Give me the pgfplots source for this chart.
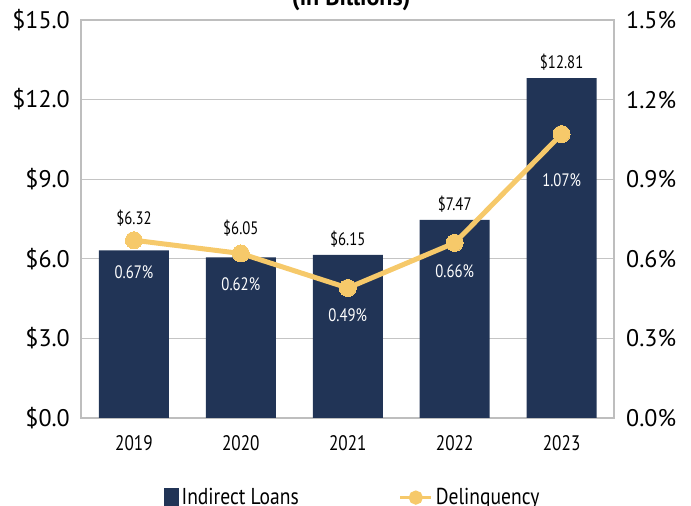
\documentclass[border=0pt]{standalone}
\usepackage{pgfplots}
\pgfplotsset{compat=1.18}
\usepackage{fontspec}
\setmainfont{PT Sans}
\newfontfamily\condfont[FakeStretch=0.82]{PT Sans}
\newfontfamily\legfont[FakeStretch=0.85]{PT Sans}
\definecolor{navy}{HTML}{213456}
\definecolor{gold}{HTML}{F6C96A}
\definecolor{framegray}{HTML}{BEBEBE}
\definecolor{gridgray}{HTML}{C4C4C4}
\begin{document}
\begin{tikzpicture}
\begin{axis}[
  at={(0,0)}, anchor=south west,
  scale only axis, width=533pt, height=398pt,
  xmin=-0.495, xmax=4.49, ymin=0, ymax=15,
  ybar, bar width=70pt,
  xtick={0,1,2,3,4},
  xticklabels={2019,2020,2021,2022,2023},
  ytick={0,3,6,9,12,15},
  yticklabels={\$0.0,\$3.0,\$6.0,\$9.0,\$12.0,\$15.0},
  major tick length=0pt,
  axis line style={framegray, line width=1.6pt},
  ymajorgrids, grid style={gridgray, line width=1pt},
  xticklabel style={font=\condfont\fontsize{21}{24}\selectfont, inner sep=0pt, anchor=north, yshift=-17pt},
  yticklabel style={font=\fontsize{24}{28}\selectfont, inner sep=0pt, anchor=east, xshift=-11pt},
  clip=false,
]
\addplot[fill=navy, draw=none] coordinates {(0,6.32) (1,6.05) (2,6.15) (3,7.47) (4,12.81)};
\begin{scope}[every node/.style={font=\condfont\fontsize{18}{20}\selectfont}]
\node at (axis cs:0,7.54) {\$6.32};
\node at (axis cs:1,7.16) {\$6.05};
\node at (axis cs:2,6.75) {\$6.15};
\node at (axis cs:3,8.07) {\$7.47};
\node at (axis cs:4,13.42) {\$12.81};
\node[white] at (axis cs:0,5.50) {0.67\%};
\node[white] at (axis cs:1,5.05) {0.62\%};
\node[white] at (axis cs:2,3.88) {0.49\%};
\node[white] at (axis cs:3,5.54) {0.66\%};
\node[white] at (axis cs:4,8.97) {1.07\%};
\end{scope}
\node[font=\bfseries\fontsize{24}{28}\selectfont, anchor=base] at (rel axis cs:0.507,1.036) {(in Billions)};
\end{axis}
\begin{axis}[
  at={(0,0)}, anchor=south west,
  scale only axis, width=533pt, height=398pt,
  xmin=-0.495, xmax=4.49, ymin=0, ymax=1.5,
  axis x line=none, axis y line*=right,
  ytick={0,0.3,0.6,0.9,1.2,1.5},
  yticklabels={0.0\%,0.3\%,0.6\%,0.9\%,1.2\%,1.5\%},
  major tick length=0pt,
  axis line style={framegray, line width=1.6pt},
  yticklabel style={font=\fontsize{24}{28}\selectfont, inner sep=0pt, anchor=west, xshift=12pt},
  clip=false,
  legend columns=2,
  legend style={at={(0.1557,-0.2)}, anchor=west, draw=none, fill=none, inner sep=0pt,
    font=\legfont\fontsize{23}{26}\selectfont,
    nodes={inner sep=0pt, anchor=west},
    /tikz/every odd column/.style={column sep=3pt},
    /tikz/every even column/.style={column sep=100pt}},
]
\addlegendimage{legend image code/.code={\fill[navy] (0pt,-9.5pt) rectangle (14pt,9.5pt);}}
\addlegendentry{Indirect Loans}
\addplot[gold, line width=5pt, mark=*, mark size=8.5pt, mark options={fill=gold, draw=gold, line width=0pt},
  legend image code/.code={\draw[gold, line width=3pt] (0pt,0pt) -- (31pt,0pt); \fill[gold] (15.5pt,0pt) circle (4.5pt);}]
  coordinates {(0,0.67) (1,0.62) (2,0.49) (3,0.66) (4,1.07)};
\addlegendentry{Delinquency}
\end{axis}
\pgfresetboundingbox
\useasboundingbox (-81pt,-88pt) rectangle (610pt,418pt);
\end{tikzpicture}
\end{document}
